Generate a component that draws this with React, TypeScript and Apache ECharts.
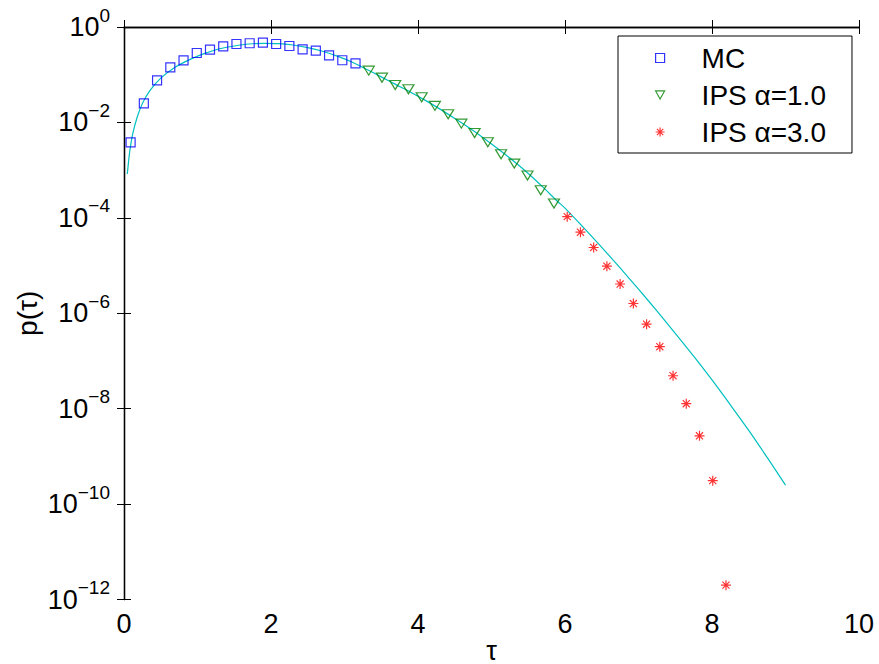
import React, { useEffect, useRef } from "react";
import * as echarts from "echarts";

// MC (squares)
const mcTau = [0.09, 0.27, 0.45, 0.63, 0.81, 0.99, 1.17, 1.35, 1.53, 1.71, 1.89, 2.07, 2.25, 2.43, 2.61, 2.79, 2.97, 3.15];
const mcP = [3.8e-3, 2.5e-2, 7.6e-2, 0.143, 0.20, 0.285, 0.335, 0.394, 0.44, 0.456, 0.469, 0.44, 0.40, 0.341, 0.319, 0.255, 0.201, 0.172];

// IPS alpha = 1.0 (down triangles)
const ips1Tau = [3.33, 3.51, 3.69, 3.87, 4.05, 4.23, 4.41, 4.59, 4.77, 4.95, 5.13, 5.31, 5.49, 5.67, 5.85];
const ips1P = [0.1216, 0.0867, 0.061, 0.0496, 0.0337, 0.0222, 0.01486, 0.00943, 0.00602, 0.00385, 0.00216, 0.00137, 7.7e-4, 3.8e-4, 2.0e-4];

// IPS alpha = 3.0 (asterisks)
const ips3Tau = [6.03, 6.21, 6.39, 6.57, 6.75, 6.93, 7.11, 7.29, 7.47, 7.65, 7.83, 8.01, 8.19];
const ips3P = [1.06e-4, 5.0e-5, 2.39e-5, 9.7e-6, 4.1e-6, 1.6e-6, 5.9e-7, 1.99e-7, 4.9e-8, 1.27e-8, 2.7e-9, 3.1e-10, 2.0e-12];

// reference curve (cyan)
const curveTau = [0.045, 0.08, 0.12, 0.18, 0.25, 0.35, 0.5, 0.7, 0.9, 1.1, 1.3, 1.5, 1.7, 1.9, 2.1, 2.3, 2.5, 2.7, 2.9, 3.1, 3.3, 3.5, 3.7, 3.9, 4.1, 4.3, 4.5, 4.7, 4.9, 5.1, 5.3, 5.5, 5.7, 5.9, 6.0, 6.25, 6.5, 6.75, 7.0, 7.25, 7.5, 7.75, 8.0, 8.25, 8.5, 8.75, 9.0];
const curveP = [8.3e-4, 2.6e-3, 5.9e-3, 1.3e-2, 2.5e-2, 4.6e-2, 8.5e-2, 0.145, 0.21, 0.28, 0.35, 0.40, 0.44, 0.455, 0.45, 0.42, 0.37, 0.31, 0.245, 0.185, 0.13, 0.09, 0.062, 0.043, 0.029, 0.019, 0.0121, 0.0076, 0.0046, 0.0027, 0.00155, 8.5e-4, 4.4e-4, 2.2e-4, 1.6e-4, 6.3e-5, 2.4e-5, 8.9e-6, 3.2e-6, 1.12e-6, 3.8e-7, 1.26e-7, 4.0e-8, 1.2e-8, 3.5e-9, 9.5e-10, 2.5e-10];

const xTicks = [0, 2, 4, 6, 8, 10];
const yExponents = [0, -2, -4, -6, -8, -10, -12];

const FONT = "Liberation Sans, Arial, Helvetica, sans-serif";
const ASTERISK = "path://M0 5L10 5M5 0L5 10M1.46 1.46L8.54 8.54M8.54 1.46L1.46 8.54";
const TRI_DOWN = "path://M0 0L10 0L5 9Z";

const MC_STYLE = { color: "transparent", borderColor: "#0000FF", borderWidth: 1.2 };
const IPS1_STYLE = { color: "transparent", borderColor: "#008000", borderWidth: 1.2 };
const IPS3_STYLE = { color: "transparent", borderColor: "#FF0000", borderWidth: 1.2 };

const pts = (t: number[], p: number[]) => t.map((x, i) => [x, Math.log10(p[i])]);

export default function App() {
  const ref = useRef<HTMLDivElement>(null);
  useEffect(() => {
    if (!ref.current) return;
    const chart = echarts.init(ref.current, undefined, { renderer: "svg" });
    const axisCommon = {
      axisLine: { show: true, lineStyle: { color: "#000", width: 1.3 } },
      axisTick: { show: true, inside: true, length: 7, lineStyle: { color: "#000", width: 1 } },
      splitLine: { show: false },
    };
    chart.setOption({
      animation: false,
      backgroundColor: "#fff",
      textStyle: { fontFamily: FONT },
      grid: { left: 124, right: 20, top: 27, bottom: 64.5, containLabel: false, outerBoundsMode: "none" },
      legend: {
        data: [
          { name: "MC", icon: "rect", itemStyle: MC_STYLE },
          { name: "IPS \u03b1=1.0", icon: TRI_DOWN, itemStyle: IPS1_STYLE },
          { name: "IPS \u03b1=3.0", icon: ASTERISK, itemStyle: IPS3_STYLE },
        ],
        orient: "vertical",
        left: 618,
        top: 36,
        padding: [7, 26, 6, 37],
        itemWidth: 9,
        itemHeight: 9,
        itemGap: 7,
        backgroundColor: "#fff",
        borderColor: "#000",
        borderWidth: 1,
        borderRadius: 0,
        selectedMode: false,
        textStyle: { fontSize: 28, fontFamily: FONT, color: "#000", lineHeight: 30, padding: [0, 0, 0, 32] },
      },
      xAxis: [
        {
          type: "value",
          min: 0,
          max: 10,
          interval: 2,
          name: "\u03c4",
          nameLocation: "middle",
          nameGap: 39,
          nameMoveOverlap: false,
          nameTextStyle: { fontSize: 27, lineHeight: 24, fontFamily: FONT, color: "#000" },
          axisLabel: { fontSize: 27, color: "#000", margin: 11, fontFamily: FONT, formatter: (v: number) => (xTicks.includes(v) ? String(v) : "") },
          ...axisCommon,
        },
        {
          type: "value",
          position: "top",
          min: 0,
          max: 10,
          interval: 2,
          axisLabel: { show: false },
          ...axisCommon,
        },
      ],
      yAxis: [
        {
          type: "value",
          min: -12,
          max: 0,
          interval: 2,
          name: "p(\u03c4)",
          nameLocation: "middle",
          nameGap: 83,
          nameMoveOverlap: false,
          nameTextStyle: { fontSize: 28, fontFamily: FONT, color: "#000" },
          axisLabel: {
            margin: 14,
            color: "#000",
            formatter: (v: number) =>
              yExponents.includes(v) ? (v === 0 ? "{b|10}{s|0}" : `{b|10}{s|\u2212${-v}}`) : "",
            rich: {
              b: { fontSize: 27, fontFamily: FONT, color: "#000" },
              s: { fontSize: 19, fontFamily: FONT, color: "#000", padding: [0, 0, 24, 0] },
            },
          },
          ...axisCommon,
        },
        {
          type: "value",
          position: "right",
          min: -12,
          max: 0,
          interval: 2,
          axisLabel: { show: false },
          ...axisCommon,
        },
      ],
      series: [
        {
          name: "curve",
          type: "line",
          data: pts(curveTau, curveP),
          showSymbol: false,
          symbol: "none",
          smooth: 0.3,
          lineStyle: { color: "#00BFBF", width: 1.2 },
          z: 1,
          silent: true,
        },
        {
          name: "MC",
          type: "scatter",
          data: pts(mcTau, mcP),
          symbol: "rect",
          symbolSize: 9,
          itemStyle: MC_STYLE,
          z: 3,
        },
        {
          name: "IPS \u03b1=1.0",
          type: "scatter",
          data: pts(ips1Tau, ips1P),
          symbol: TRI_DOWN,
          symbolSize: [11, 9],
          itemStyle: IPS1_STYLE,
          z: 3,
        },
        {
          name: "IPS \u03b1=3.0",
          type: "scatter",
          data: pts(ips3Tau, ips3P),
          symbol: ASTERISK,
          symbolSize: 10,
          itemStyle: IPS3_STYLE,
          z: 3,
        },
      ],
    });
    return () => chart.dispose();
  }, []);
  return <div ref={ref} style={{ position: "fixed", left: 0, top: 0, width: 879, height: 664, background: "#fff" }} />;
}
